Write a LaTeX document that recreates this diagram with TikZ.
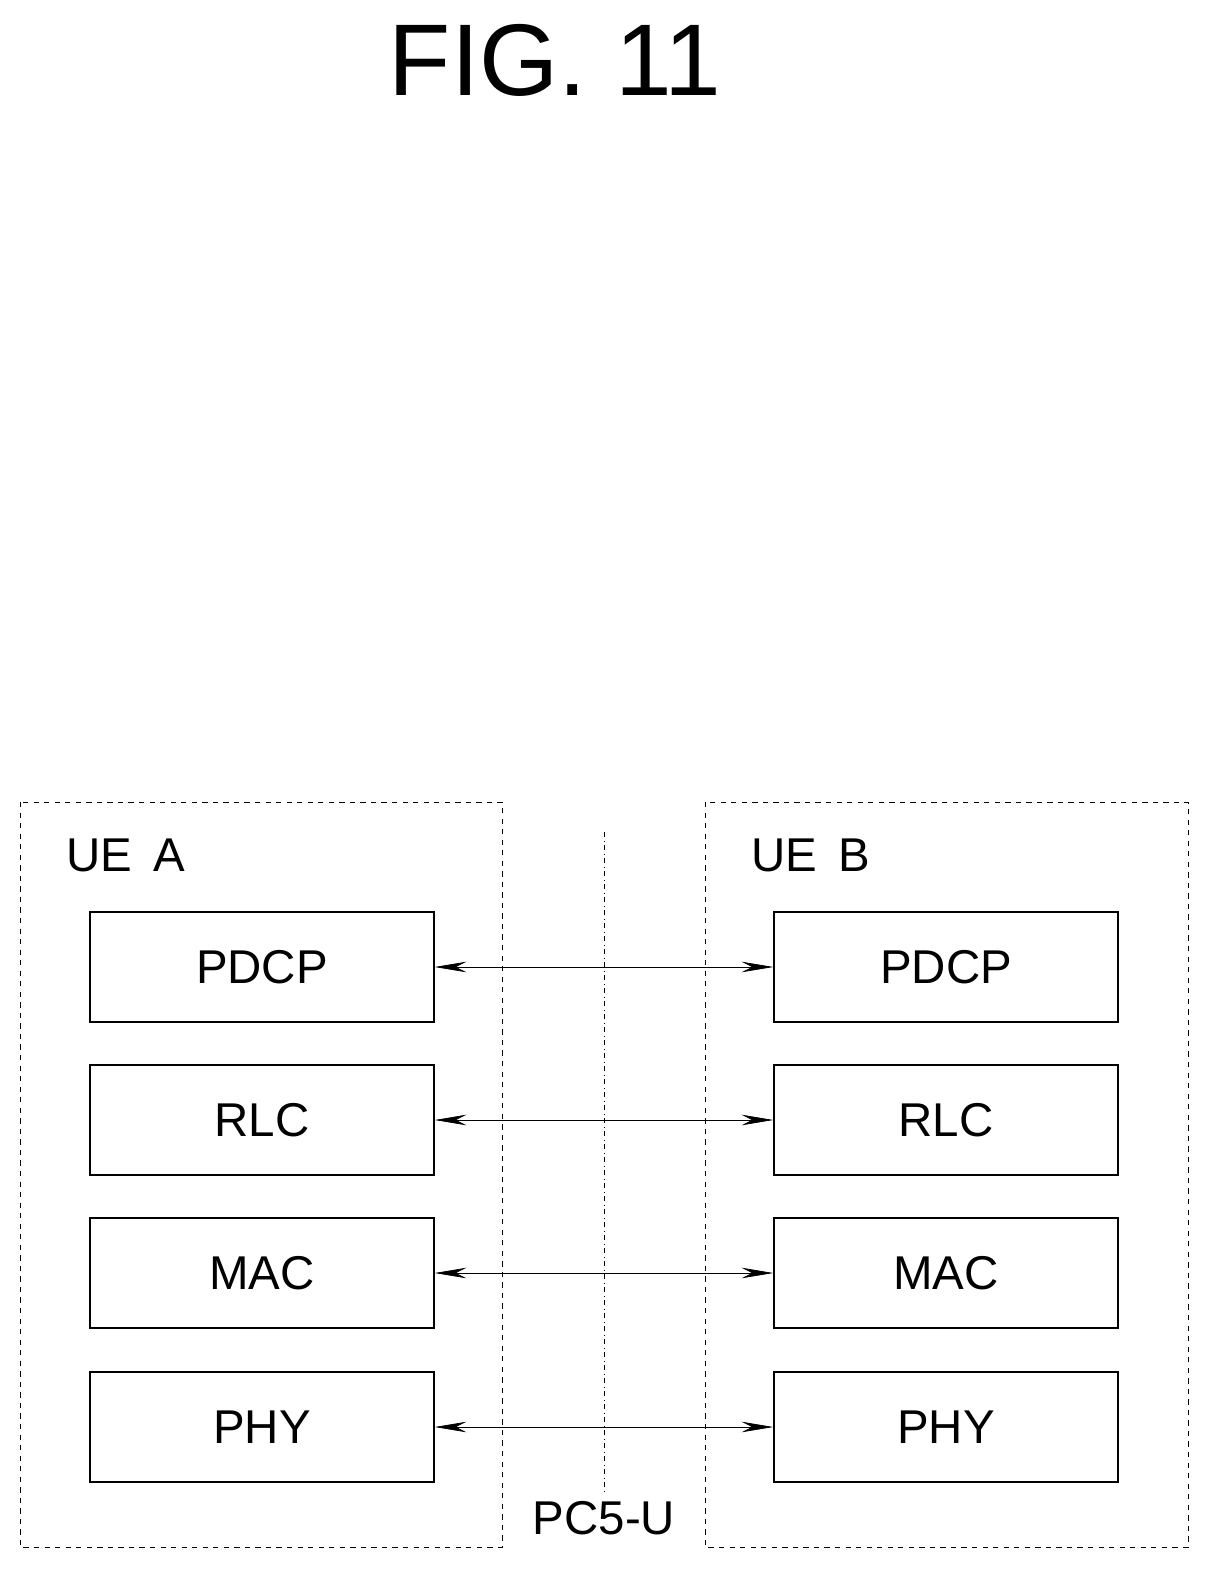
\documentclass[tikz,border=0pt]{standalone}
\usepackage{fontspec}
\setmainfont{Liberation Sans}
\usetikzlibrary{arrows.meta,positioning}
\begin{document}
\begin{tikzpicture}[
        x = 0.02cm, y = -0.02cm,
        > = {Stealth[length=18pt,width=6pt]},
        semithick
    ]

    \tikzset{
        layer/.style = {draw, thick, minimum width = 6.88cm, minimum height = 2.2cm,
            font = \fontsize{27}{32}\selectfont},
        group/.style = {draw, dashed, thin},
        label/.style = {font = \fontsize{27}{32}\selectfont}
    }

    \useasboundingbox (0,0) rectangle (1215,1576);

    \node[font=\fontsize{58}{64}\selectfont] (title) at (555,60) {FIG. 11};

    % the two terminals
    \draw[group] (20,802) rectangle (502,1547);
    \draw[group] (705,802) rectangle (1188,1547);
    \node[label, anchor=west] (uea) at (60,855) {UE\, A};
    \node[label, anchor=west] (ueb) at (745,855) {UE\, B};

    % interface
    \coordinate (top) at (604,832);
    \coordinate (bot) at (604,1492);
    \draw[thin, dash dot] (top) -- (bot);
    \node[label] (pc5) at (604,1518) {PC5-U};

    \foreach \name/\y in {PDCP/967, RLC/1120, MAC/1273, PHY/1427} {
        \node[layer] (A\name) at (262,\y) {\name};
        \node[layer] (B\name) at (946,\y) {\name};
        \draw[<->, thin] (A\name) -- (B\name);
    }
\end{tikzpicture}
\end{document}
